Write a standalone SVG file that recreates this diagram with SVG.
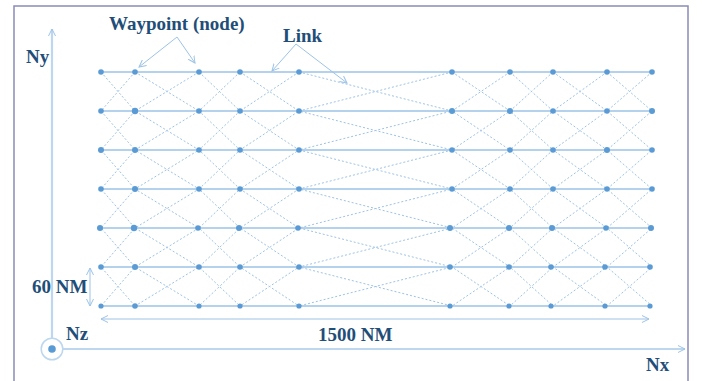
<svg xmlns="http://www.w3.org/2000/svg" width="704" height="381" viewBox="0 0 704 381">
<defs>
<style>
.t{font-family:"Liberation Serif","Times New Roman",serif;font-weight:bold;font-size:19px;fill:#1f4e79}
.h{stroke:#9dc3e6;stroke-width:1.4;fill:none}
.d{stroke:#9dc3e6;stroke-width:1;stroke-dasharray:2 2;fill:none}
.ax{stroke:#bdd7ee;stroke-width:2.2;fill:none}
.ar{stroke:#9dc3e6;stroke-width:1;fill:none}
.n{fill:#5b9bd5}
</style>
<marker id="ah" viewBox="0 0 8 8" refX="7" refY="4" markerWidth="8" markerHeight="8" markerUnits="userSpaceOnUse" orient="auto-start-reverse">
<path d="M0,0.5 L7,4 L0,7.5" fill="none" stroke="#9dc3e6" stroke-width="1"/>
</marker>
</defs>
<rect x="14" y="6" width="674" height="400" fill="#fff" stroke="#8a8ab8" stroke-width="1.5"/>
<g id="axes">
<line class="ax" x1="52" y1="338" x2="52" y2="29" marker-end="url(#ah)"/>
<line class="ax" x1="63" y1="349" x2="685" y2="349" marker-end="url(#ah)"/>
<circle cx="52" cy="349" r="10.8" fill="#fff" stroke="#bdd7ee" stroke-width="1.5"/>
<circle cx="52" cy="349" r="3.8" class="n"/>
</g>
<g id="connectors">
<g id="links-horizontal">
<path class="h" d="M101 72H652M101 111H652M101 228H652M101 267H652M101 306H652M101 189H652"/>
<path class="h" d="M101 150H652" stroke-width="1.8"/>
</g>
<g id="links-diagonal">
<path class="d" d="M101 72L135 111L101 150L135 189L101 228L135 267L101 306M135 72L101 111L135 150L101 189L135 228L101 267L135 306"/>
<path class="d" d="M135 72L199 111L135 150L199 189L135 228L199 267L135 306M199 72L135 111L199 150L135 189L199 228L135 267L199 306"/>
<path class="d" d="M199 72L240 111L199 150L240 189L199 228L240 267L199 306M240 72L199 111L240 150L199 189L240 228L199 267L240 306"/>
<path class="d" d="M240 72L299 111L240 150L299 189L240 228L299 267L240 306M299 72L240 111L299 150L240 189L299 228L240 267L299 306"/>
<path class="d" d="M299 72L452 111L299 150L452 189L299 228L452 267L299 306M452 72L299 111L452 150L299 189L452 228L299 267L452 306"/>
<path class="d" d="M452 72L510 111L452 150L510 189L452 228L510 267L452 306M510 72L452 111L510 150L452 189L510 228L452 267L510 306"/>
<path class="d" d="M510 72L553 111L510 150L553 189L510 228L553 267L510 306M553 72L510 111L553 150L510 189L553 228L510 267L553 306"/>
<path class="d" d="M553 72L607 111L553 150L607 189L553 228L607 267L553 306M607 72L553 111L607 150L553 189L607 228L553 267L607 306"/>
<path class="d" d="M607 72L652 111L607 150L652 189L607 228L652 267L607 306M652 72L607 111L652 150L607 189L652 228L607 267L652 306"/>
</g>
<g id="callouts">
<line class="ar" x1="177" y1="37" x2="139" y2="67" marker-end="url(#ah)"/>
<line class="ar" x1="177" y1="37" x2="195" y2="63" marker-end="url(#ah)"/>
<line class="ar" x1="296" y1="44" x2="272" y2="71" marker-end="url(#ah)"/>
<line class="ar" x1="296" y1="44" x2="347" y2="83" marker-end="url(#ah)"/>
</g>
<g id="dimensions">
<line class="ar" x1="90" y1="268" x2="90" y2="306" marker-start="url(#ah)" marker-end="url(#ah)"/>
<line class="ar" x1="101" y1="319" x2="649" y2="319" marker-start="url(#ah)" marker-end="url(#ah)"/>
</g>
</g>
<g id="nodes">
<g id="row1"><circle class="n" cx="101" cy="72" r="2.8"/><circle class="n" cx="135" cy="72" r="2.8"/><circle class="n" cx="199" cy="72" r="2.8"/><circle class="n" cx="240" cy="72" r="2.8"/><circle class="n" cx="299" cy="72" r="2.8"/><circle class="n" cx="452" cy="72" r="2.8"/><circle class="n" cx="510" cy="72" r="2.8"/><circle class="n" cx="553" cy="72" r="2.8"/><circle class="n" cx="607" cy="72" r="2.8"/><circle class="n" cx="652" cy="72" r="2.8"/></g>
<g id="row2"><circle class="n" cx="101" cy="111" r="2.8"/><circle class="n" cx="135" cy="111" r="3.2"/><circle class="n" cx="199" cy="111" r="2.8"/><circle class="n" cx="240" cy="111" r="2.8"/><circle class="n" cx="299" cy="111" r="2.8"/><circle class="n" cx="452" cy="111" r="3"/><circle class="n" cx="510" cy="111" r="3"/><circle class="n" cx="553" cy="111" r="2.8"/><circle class="n" cx="607" cy="111" r="2.8"/><circle class="n" cx="652" cy="111" r="3"/></g>
<g id="row3"><circle class="n" cx="101" cy="150" r="3"/><circle class="n" cx="135" cy="150" r="3"/><circle class="n" cx="199" cy="150" r="2.8"/><circle class="n" cx="240" cy="150" r="2.8"/><circle class="n" cx="299" cy="150" r="2.8"/><circle class="n" cx="452" cy="150" r="2.8"/><circle class="n" cx="510" cy="150" r="2.8"/><circle class="n" cx="553" cy="150" r="2.8"/><circle class="n" cx="607" cy="150" r="3"/><circle class="n" cx="652" cy="150" r="2.8"/></g>
<g id="row4"><circle class="n" cx="101" cy="189" r="2.8"/><circle class="n" cx="135" cy="189" r="3"/><circle class="n" cx="199" cy="189" r="2.8"/><circle class="n" cx="240" cy="189" r="2.8"/><circle class="n" cx="299" cy="189" r="2.8"/><circle class="n" cx="452" cy="189" r="2.8"/><circle class="n" cx="510" cy="189" r="2.8"/><circle class="n" cx="553" cy="189" r="2.8"/><circle class="n" cx="607" cy="189" r="2.8"/><circle class="n" cx="652" cy="189" r="2.8"/></g>
<g id="row5"><circle class="n" cx="100" cy="228" r="3"/><circle class="n" cx="134" cy="228" r="3.2"/><circle class="n" cx="198" cy="228" r="2.8"/><circle class="n" cx="239" cy="228" r="3"/><circle class="n" cx="298" cy="228" r="2.8"/><circle class="n" cx="450" cy="228" r="3"/><circle class="n" cx="509" cy="228" r="3"/><circle class="n" cx="552" cy="228" r="3"/><circle class="n" cx="606" cy="228" r="2.8"/><circle class="n" cx="651" cy="228" r="3"/></g>
<g id="row6"><circle class="n" cx="101" cy="267" r="2.8"/><circle class="n" cx="135" cy="267" r="3"/><circle class="n" cx="199" cy="267" r="2.8"/><circle class="n" cx="240" cy="267" r="2.8"/><circle class="n" cx="299" cy="267" r="2.8"/><circle class="n" cx="450" cy="267" r="2.8"/><circle class="n" cx="509" cy="267" r="2.8"/><circle class="n" cx="551" cy="267" r="2.8"/><circle class="n" cx="605" cy="267" r="2.8"/><circle class="n" cx="650" cy="267" r="2.8"/></g>
<g id="row7"><circle class="n" cx="101" cy="306" r="2.6"/><circle class="n" cx="135" cy="306" r="2.8"/><circle class="n" cx="199" cy="306" r="2.6"/><circle class="n" cx="240" cy="306" r="2.6"/><circle class="n" cx="299" cy="306" r="2.6"/><circle class="n" cx="450" cy="306" r="2.6"/><circle class="n" cx="509" cy="306" r="2.6"/><circle class="n" cx="551" cy="306" r="2.6"/><circle class="n" cx="605" cy="306" r="2.6"/><circle class="n" cx="650" cy="306" r="2.6"/></g>
</g>
<g id="labels">
<text class="t" x="26" y="63">Ny</text>
<text class="t" x="109" y="29.5">Waypoint (node)</text>
<text class="t" x="283" y="42">Link</text>
<text class="t" x="32" y="293">60 NM</text>
<text class="t" x="318" y="341">1500 NM</text>
<text class="t" x="66" y="340">Nz</text>
<text class="t" x="646" y="371">Nx</text>
</g>
</svg>
